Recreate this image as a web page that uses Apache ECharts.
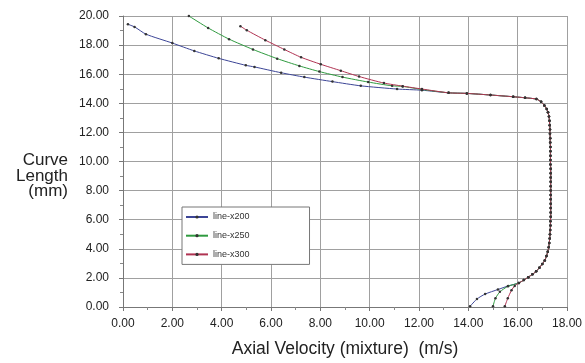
<!DOCTYPE html>
<html>
<head>
<meta charset="utf-8">
<script src="https://cdn.jsdelivr.net/npm/echarts@6/dist/echarts.min.js"></script>
<style>
html,body{margin:0;padding:0;background:#fff;}
#c{width:585px;height:363px;}
</style>
</head>
<body>
<div id="c"></div>
<script>
// Series names
const seriesNames = ['line-x200', 'line-x250', 'line-x300'];

// Upper branches (x = velocity m/s, y = curve length mm)
const topX200 = [[0.2,19.43],[0.47,19.25],[0.93,18.75],[2.0,18.14],[2.89,17.6],[3.88,17.09],[4.98,16.61],[5.33,16.5],[6.41,16.1],[7.35,15.8],[8.49,15.49],[9.64,15.2],[11.11,14.98],[12.12,14.9]];
const topX250 = [[2.67,20.0],[3.45,19.18],[4.3,18.41],[5.27,17.7],[6.25,17.07],[7.15,16.57],[7.96,16.18],[8.9,15.8],[9.94,15.46],[10.91,15.2],[11.34,15.16],[12.12,14.95]];
const topX300 = [[4.76,19.3],[5.02,19.02],[5.77,18.34],[6.54,17.7],[7.22,17.16],[8.02,16.68],[8.83,16.24],[9.57,15.84],[10.58,15.39],[11.34,15.18],[12.12,14.98]];

// Common core profile where the three curves coincide
const coreProfile = [[13.2,14.72],[13.94,14.68],[14.9,14.57],[15.82,14.45],[16.3,14.38],[16.76,14.29],[16.95,14.1],[17.08,13.85],[17.18,13.6],[17.23,13.39],[17.27,13.1],[17.29,12.8],[17.3,12.5],[17.31,12.2],[17.31,11.9],[17.32,11.6],[17.32,11.3],[17.33,11.0],[17.33,10.7],[17.33,10.4],[17.33,10.1],[17.33,9.8],[17.34,9.5],[17.34,9.2],[17.34,8.9],[17.34,8.6],[17.34,8.3],[17.34,8.0],[17.34,7.7],[17.34,7.4],[17.34,7.1],[17.34,6.8],[17.34,6.5],[17.34,6.2],[17.33,5.9],[17.33,5.6],[17.32,5.3],[17.31,5.0],[17.3,4.7],[17.28,4.4],[17.26,4.1],[17.22,3.8],[17.17,3.5],[17.1,3.2],[17.0,2.95],[16.88,2.7],[16.75,2.45],[16.6,2.25],[16.43,2.05],[16.25,1.85],[16.05,1.65]];

// Lower branches
const botX200 = [[15.62,1.45],[15.2,1.2],[14.68,0.89],[14.35,0.55],[14.07,0.05]];
const botX250 = [[15.6,1.42],[15.28,1.04],[15.1,0.6],[15.0,0.05]];
const botX300 = [[15.88,1.45],[15.75,1.15],[15.6,0.6],[15.48,0.05]];

const lineColors = ['#3c4596', '#2f9a3f', '#b03352'];

const seriesData = [
  topX200.concat(coreProfile, botX200),
  topX250.concat(coreProfile, botX250),
  topX300.concat(coreProfile, botX300)
];

const chart = echarts.init(document.getElementById('c'), null, {renderer: 'canvas'});
const fontFam = '"Liberation Sans", Arial, sans-serif';

chart.setOption({
  animation: false,
  backgroundColor: '#fff',
  grid: {left: 123, right: 16, top: 16, bottom: 55, containLabel: false},
  legend: {
    data: seriesNames,
    orient: 'vertical',
    left: 182, top: 207,
    padding: [5, 60, 5, 3],
    itemWidth: 22, itemHeight: 4, itemGap: 8.7,
    borderColor: '#777', borderWidth: 1, backgroundColor: '#fff',
    textStyle: {fontSize: 9, color: '#333', fontFamily: fontFam, lineHeight: 10}
  },
  xAxis: {
    type: 'value', min: 0, max: 18, interval: 2,
    name: 'Axial Velocity (mixture)  (m/s)',
    nameLocation: 'middle', nameGap: 33,
    nameTextStyle: {fontSize: 17.5, color: '#222', fontFamily: fontFam},
    axisLine: {show: true, lineStyle: {color: '#777'}},
    axisTick: {show: true, inside: false, length: 4, lineStyle: {color: '#777'}},
    minorTick: {show: true, splitNumber: 2, length: 3, lineStyle: {color: '#888'}},
    axisLabel: {formatter: v => v.toFixed(2), fontSize: 12, color: '#222', margin: 11, fontFamily: fontFam},
    splitLine: {show: true, lineStyle: {color: '#a0a0a0', width: 1}}
  },
  yAxis: {
    type: 'value', min: 0, max: 20, interval: 2,
    axisLine: {show: true, lineStyle: {color: '#777'}},
    axisTick: {show: true, inside: false, length: 4, lineStyle: {color: '#777'}},
    minorTick: {show: true, splitNumber: 2, length: 3, lineStyle: {color: '#888'}},
    axisLabel: {formatter: v => v.toFixed(2), fontSize: 12, color: '#222', margin: 14, fontFamily: fontFam},
    splitLine: {show: true, lineStyle: {color: '#a0a0a0', width: 1}}
  },
  graphic: [{
    type: 'text', x: 68, y: 153,
    style: {
      text: 'Curve\nLength\n(mm)', fontSize: 17, lineHeight: 15.5,
      fill: '#222', fontFamily: fontFam, align: 'right', verticalAlign: 'top'
    }
  }],
  series: seriesNames.map((n, i) => ({
    name: n, type: 'line', data: seriesData[i],
    smooth: 0.2,
    showSymbol: true, symbol: 'circle', symbolSize: 2.5,
    itemStyle: {color: '#333'},
    lineStyle: {color: lineColors[i], width: 1},
    z: 3 + i
  }))
});
</script>
</body>
</html>
